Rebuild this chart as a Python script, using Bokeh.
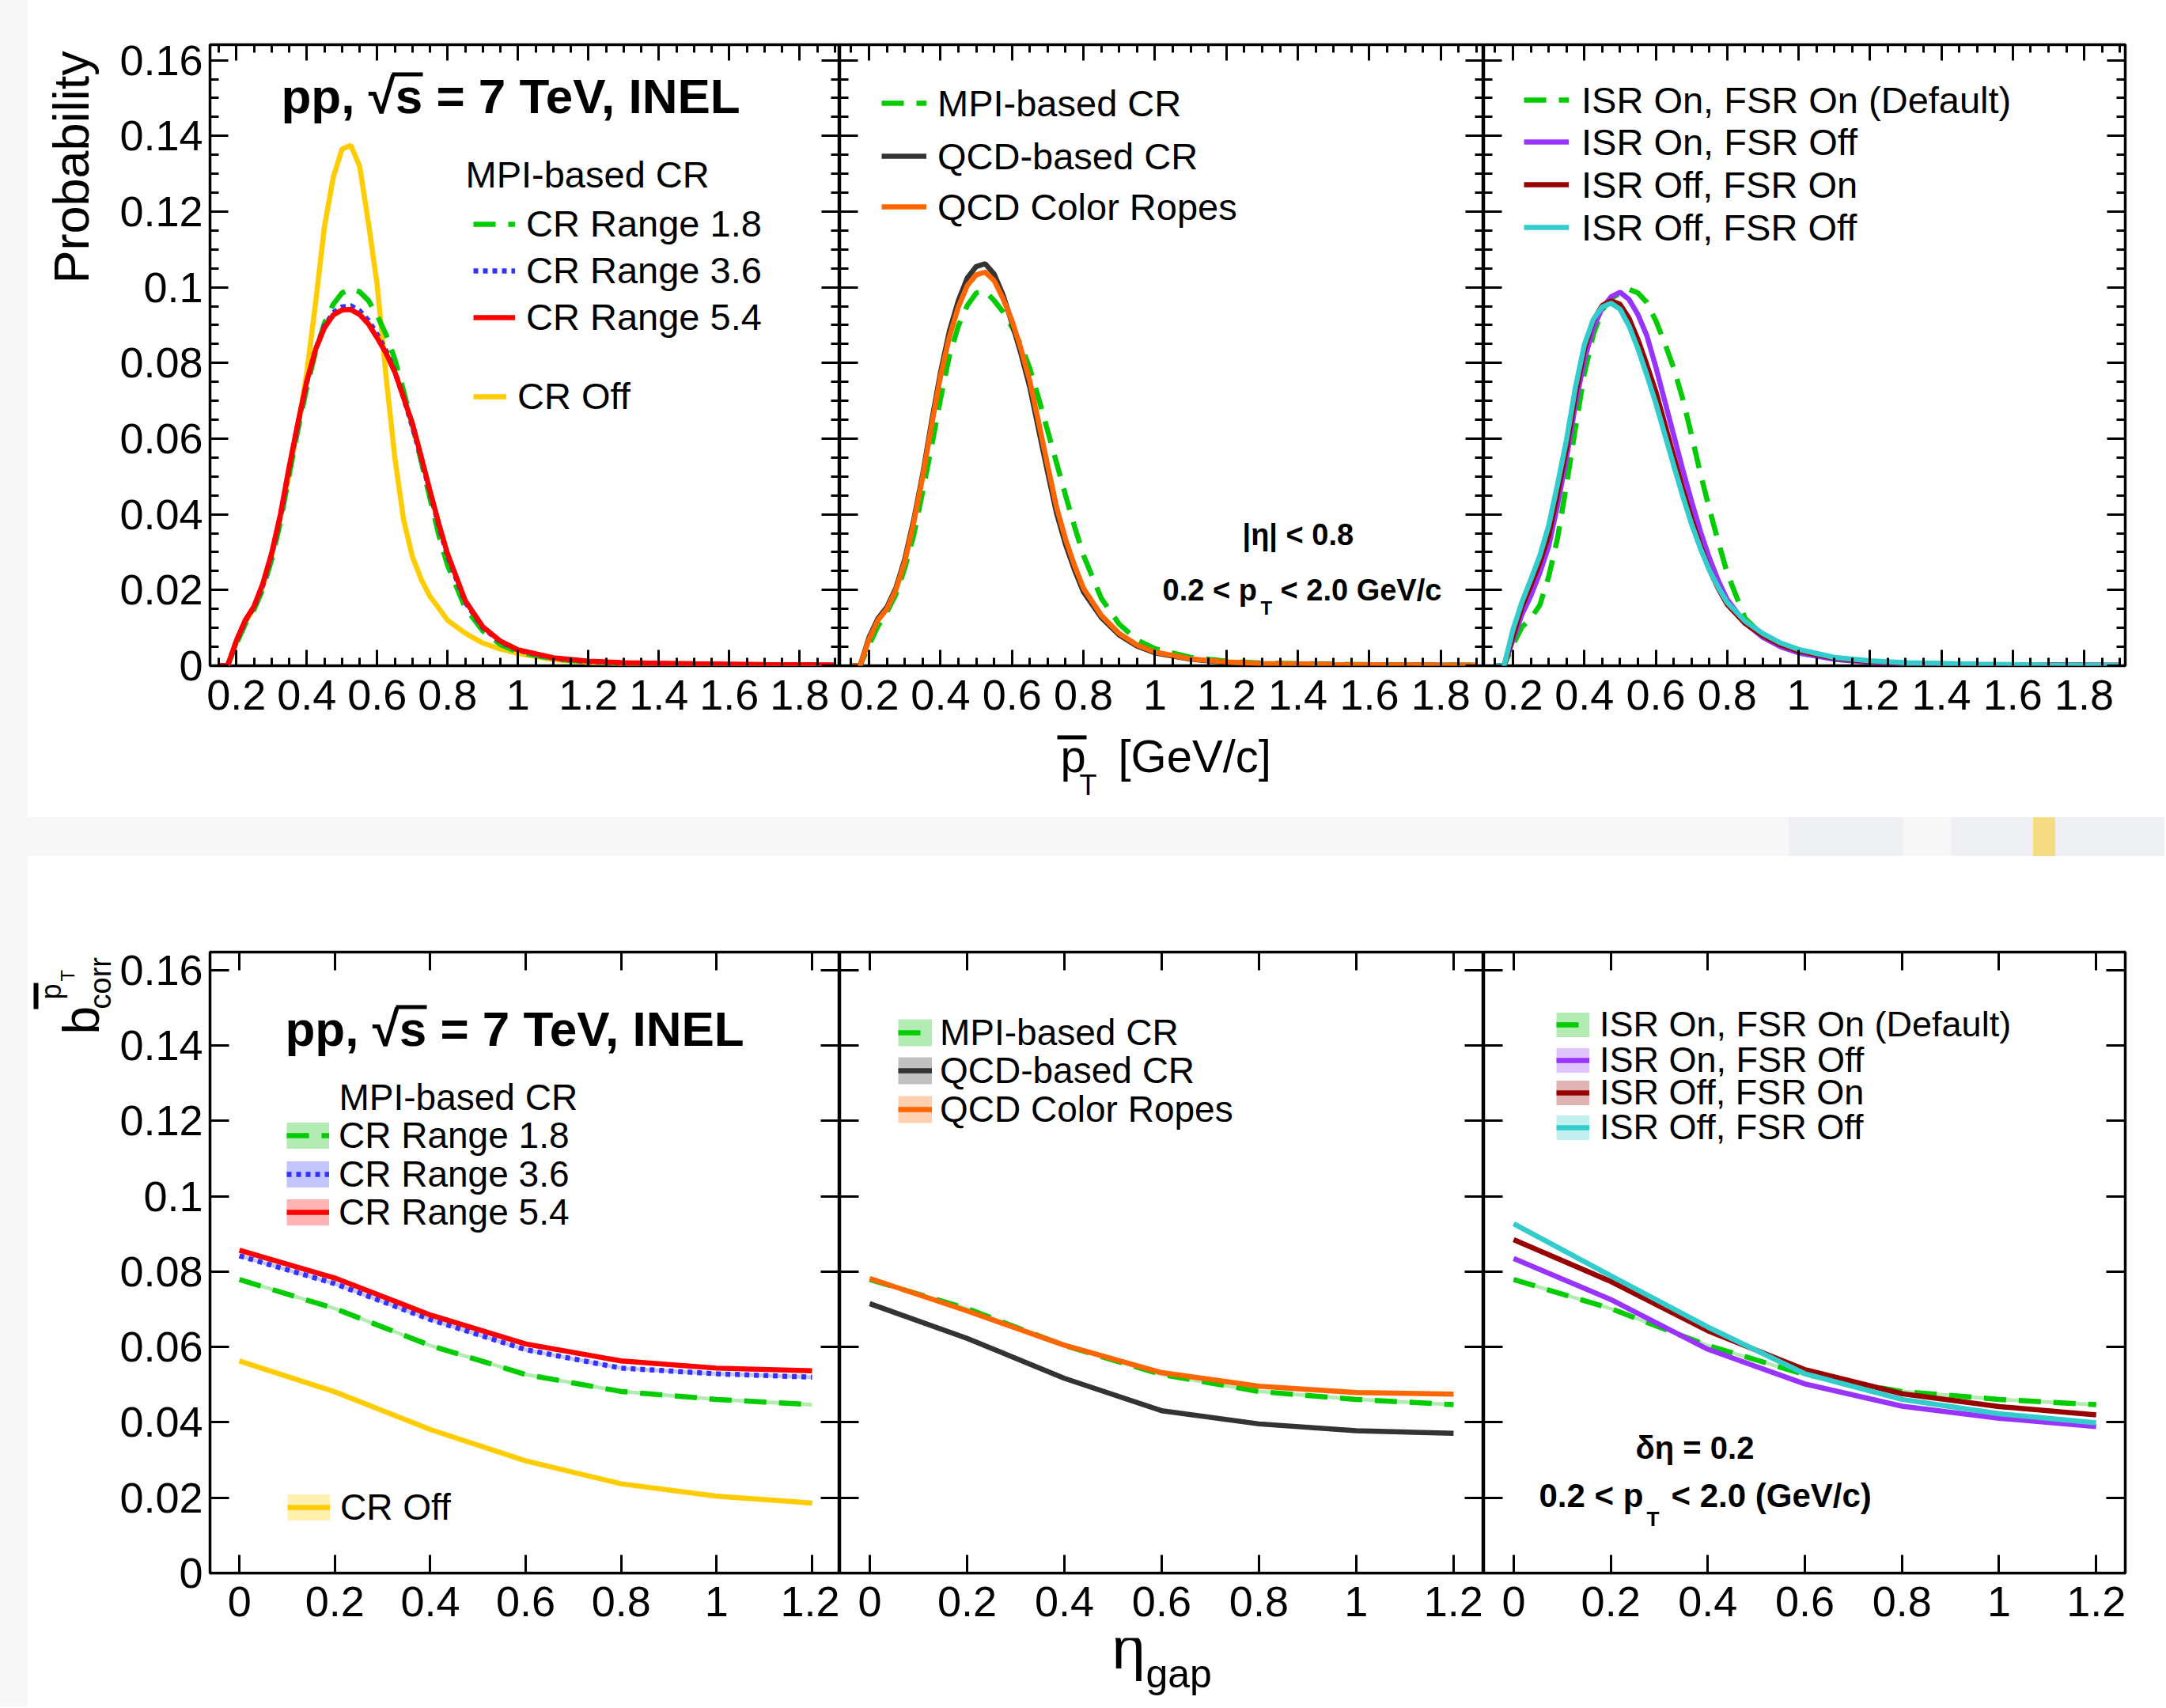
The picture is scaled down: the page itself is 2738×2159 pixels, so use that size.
import math
from bokeh.plotting import figure
from bokeh.models import (Range1d, FixedTicker, LinearAxis, Label, Legend, LegendItem,
                          BoxAnnotation, Spacer)
from bokeh.layouts import row, column
from bokeh.embed import file_html
from bokeh.resources import INLINE

# ---------------------------------------------------------------- data
pt_mean = [0.15, 0.175, 0.2, 0.225, 0.25, 0.275, 0.3, 0.325, 0.35, 0.375, 0.4, 0.425,
           0.45, 0.475, 0.5, 0.525, 0.55, 0.575, 0.6, 0.625, 0.65, 0.675, 0.7, 0.725,
           0.75, 0.775, 0.8, 0.85, 0.9, 0.95, 1.0, 1.1, 1.2, 1.3, 1.5, 1.7, 1.9]

# top-left panel : MPI-based CR ranges
prob_cr_off = [0.0, 0.0, 0.0062, 0.0115, 0.0152, 0.0210, 0.0290, 0.0390, 0.0510, 0.0630, 0.0775, 0.0960,
               0.1160, 0.1290, 0.1365, 0.1375, 0.1320, 0.1170, 0.1005, 0.0765, 0.0550, 0.0385, 0.0288, 0.0228,
               0.0183, 0.0152, 0.0120, 0.0086, 0.0060, 0.0044, 0.0033, 0.0016, 0.0009, 0.0005, 0.0002, 0.0001, 0.0]
prob_cr18 = [0.0, 0.0, 0.0058, 0.0110, 0.0148, 0.0203, 0.0280, 0.0380, 0.0505, 0.0625, 0.0735, 0.0830,
             0.0905, 0.0955, 0.0985, 0.0996, 0.0988, 0.0965, 0.0925, 0.0875, 0.0810, 0.0725, 0.0635, 0.0540,
             0.0442, 0.0345, 0.0265, 0.0153, 0.0092, 0.0056, 0.0036, 0.0018, 0.0010, 0.0006, 0.0003, 0.0002, 0.0001]
prob_cr36 = [0.0, 0.0, 0.0065, 0.0118, 0.0155, 0.0213, 0.0293, 0.0395, 0.0520, 0.0640, 0.0750, 0.0836,
             0.0897, 0.0933, 0.0948, 0.0951, 0.0938, 0.0912, 0.0875, 0.0832, 0.0778, 0.0708, 0.0632, 0.0548,
             0.0458, 0.0370, 0.0290, 0.0168, 0.0101, 0.0063, 0.0041, 0.0020, 0.0011, 0.0007, 0.0004, 0.0002, 0.0001]
prob_cr54 = [0.0, 0.0, 0.0067, 0.0120, 0.0157, 0.0217, 0.0297, 0.0400, 0.0526, 0.0643, 0.0752, 0.0836,
             0.0893, 0.0927, 0.0940, 0.0941, 0.0928, 0.0903, 0.0866, 0.0826, 0.0776, 0.0708, 0.0640, 0.0552,
             0.0462, 0.0375, 0.0295, 0.0172, 0.0103, 0.0065, 0.0042, 0.0021, 0.0012, 0.0008, 0.0005, 0.0003, 0.0002]

# top-middle panel : CR models
prob_mpi = [0.0, 0.0, 0.0055, 0.0105, 0.0142, 0.0188, 0.0258, 0.0345, 0.0460, 0.0580, 0.0705, 0.0820,
            0.0898, 0.0952, 0.0985, 0.0990, 0.0965, 0.0935, 0.0895, 0.0848, 0.0785, 0.0705, 0.0620, 0.0535,
            0.0450, 0.0368, 0.0292, 0.0178, 0.0110, 0.0068, 0.0045, 0.0022, 0.0012, 0.0007, 0.0004, 0.0002, 0.0001]
prob_qcd = [0.0, 0.0, 0.0075, 0.0125, 0.0155, 0.0205, 0.0282, 0.0385, 0.0505, 0.0645, 0.0775, 0.0885,
            0.0965, 0.1025, 0.1055, 0.1062, 0.1035, 0.0980, 0.0905, 0.0825, 0.0735, 0.0622, 0.0510, 0.0402,
            0.0320, 0.0253, 0.0195, 0.0127, 0.0081, 0.0052, 0.0034, 0.0017, 0.0009, 0.0005, 0.0003, 0.0002, 0.0001]
prob_ropes = [0.0, 0.0, 0.0070, 0.0120, 0.0150, 0.0200, 0.0275, 0.0378, 0.0498, 0.0635, 0.0765, 0.0870,
              0.0948, 0.1005, 0.1033, 0.1040, 0.1018, 0.0970, 0.0912, 0.0838, 0.0752, 0.0641, 0.0528, 0.0418,
              0.0334, 0.0265, 0.0205, 0.0133, 0.0085, 0.0055, 0.0036, 0.0018, 0.0010, 0.0006, 0.0003, 0.0002, 0.0001]

# top-right panel : ISR / FSR
prob_default = [0.0, 0.0, 0.0055, 0.0102, 0.0125, 0.0160, 0.0235, 0.0338, 0.0478, 0.0628, 0.0772, 0.0875,
                0.0940, 0.0970, 0.0985, 0.0995, 0.0985, 0.0960, 0.0912, 0.0853, 0.0787, 0.0707, 0.0610, 0.0508,
                0.0415, 0.0328, 0.0245, 0.0125, 0.0080, 0.0052, 0.0034, 0.0017, 0.0009, 0.0005, 0.0003, 0.0002, 0.0001]
prob_isron_fsroff = [0.0, 0.0, 0.0068, 0.0135, 0.0185, 0.0245, 0.0315, 0.0425, 0.0550, 0.0690, 0.0808, 0.0893,
                     0.0945, 0.0975, 0.0987, 0.0968, 0.0928, 0.0872, 0.0790, 0.0700, 0.0610, 0.0520, 0.0435, 0.0355,
                     0.0285, 0.0225, 0.0175, 0.0113, 0.0075, 0.0050, 0.0034, 0.0017, 0.0009, 0.0005, 0.0003, 0.0002, 0.0001]
prob_isroff_fsron = [0.0, 0.0, 0.0078, 0.0155, 0.0212, 0.0272, 0.0345, 0.0455, 0.0575, 0.0715, 0.0835, 0.0912,
                     0.0952, 0.0964, 0.0955, 0.0918, 0.0862, 0.0795, 0.0725, 0.0640, 0.0555, 0.0470, 0.0390, 0.0318,
                     0.0255, 0.0204, 0.0162, 0.0112, 0.0079, 0.0055, 0.0039, 0.0020, 0.0011, 0.0007, 0.0003, 0.0002, 0.0001]
prob_isroff_fsroff = [0.0, 0.0, 0.0095, 0.0168, 0.0228, 0.0290, 0.0370, 0.0480, 0.0597, 0.0736, 0.0848, 0.0915,
                      0.0948, 0.0958, 0.0942, 0.0898, 0.0838, 0.0768, 0.0694, 0.0612, 0.0530, 0.0450, 0.0375, 0.0310,
                      0.0253, 0.0207, 0.0167, 0.0118, 0.0085, 0.0060, 0.0043, 0.0022, 0.0013, 0.0008, 0.0004, 0.0002, 0.0001]

eta_gap = [0.0, 0.2, 0.4, 0.6, 0.8, 1.0, 1.2]
bcorr_default = [0.0779, 0.0702, 0.0604, 0.0527, 0.0482, 0.0461, 0.0447]
bcorr_cr36 = [0.0842, 0.0768, 0.0673, 0.0593, 0.0544, 0.0529, 0.0520]
bcorr_cr54 = [0.0857, 0.0783, 0.0685, 0.0608, 0.0563, 0.0544, 0.0537]
bcorr_cr_off = [0.0563, 0.0481, 0.0381, 0.0298, 0.0237, 0.0204, 0.0186]
bcorr_qcd = [0.0715, 0.0623, 0.0517, 0.0431, 0.0396, 0.0378, 0.0371]
bcorr_ropes = [0.0782, 0.0696, 0.0605, 0.0532, 0.0496, 0.0479, 0.0475]
bcorr_isron_fsroff = [0.0835, 0.0726, 0.0594, 0.0502, 0.0443, 0.0411, 0.0389]
bcorr_isroff_fsron = [0.0885, 0.0774, 0.0643, 0.0540, 0.0476, 0.0442, 0.0420]
bcorr_isroff_fsroff = [0.0927, 0.0789, 0.0653, 0.0529, 0.0461, 0.0423, 0.0399]
band_half_width = 0.0005

# ticks
pt_ticks = [0.2, 0.4, 0.6, 0.8, 1.0, 1.2, 1.4, 1.6, 1.8]
pt_tick_labels = ["0.2", "0.4", "0.6", "0.8", "1", "1.2", "1.4", "1.6", "1.8"]
eta_ticks = [0.0, 0.2, 0.4, 0.6, 0.8, 1.0, 1.2]
eta_tick_labels = ["0", "0.2", "0.4", "0.6", "0.8", "1", "1.2"]
y_ticks = [0.0, 0.02, 0.04, 0.06, 0.08, 0.1, 0.12, 0.14, 0.16]
y_tick_labels = ["0", "0.02", "0.04", "0.06", "0.08", "0.1", "0.12", "0.14", "0.16"]
pt_minor = [round(0.05 * i, 2) for i in range(3, 39) if i % 4 != 0]
y_minor = [round(0.005 * i, 3) for i in range(0, 33) if i % 4 != 0]

# ---------------------------------------------------------------- style
FONT = "Liberation Sans"
C_GREEN, C_BLUE, C_RED, C_YEL = "#00cc00", "#3333ff", "#ff0000", "#ffcc00"
C_BLACK, C_ORANGE = "#333333", "#ff6600"
C_PURPLE, C_DRED, C_CYAN = "#9933ff", "#990000", "#33cccc"
L_GREEN, L_BLUE, L_RED, L_YEL = "#b3ecb3", "#c4c4ff", "#ffb3b3", "#fff0b0"
L_BLACK, L_ORANGE = "#c0c0c0", "#ffcfb0"
L_PURPLE, L_DRED, L_CYAN = "#e0c4ff", "#e0b3b3", "#c2f0f0"
DASH = "28 16"
DOT = "6 6"
TICK_FONT = "54px"
K_MID = 0.35   # distance baseline -> middle of text, in em


def mid(baseline, size):
    return baseline - K_MID * size


# frames in page pixels: left, right, top, bottom, xrange, yrange
TOP_T, TOP_B = 56, 841
BOT_T, BOT_B = 1203, 1988
FR = {
    "p1": (263, 1059, TOP_T, TOP_B, (0.125, 1.914), (0.0, 0.1641)),
    "p2": (1059, 1873, TOP_T, TOP_B, (0.118, 1.920), (0.0, 0.1641)),
    "p3": (1873, 2684, TOP_T, TOP_B, (0.118, 1.915), (0.0, 0.1641)),
    "p4": (263, 1059, BOT_T, BOT_B, (-0.0617, 1.258), (0.0, 0.1648)),
    "p5": (1059, 1873, BOT_T, BOT_B, (-0.0617, 1.262), (0.0, 0.1648)),
    "p6": (1873, 2684, BOT_T, BOT_B, (-0.0618, 1.260), (0.0, 0.1648)),
}


def dx(fr, px):
    L, R, T, B, xr, yr = fr
    return xr[0] + (px - L) / (R - L) * (xr[1] - xr[0])


def dy(fr, py):
    L, R, T, B, xr, yr = fr
    return yr[0] + (B - py) / (B - T) * (yr[1] - yr[0])


def make_panel(key, mbl, mbr, mbt, mbb):
    L, R, T, B, xr, yr = FR[key]
    f = figure(frame_width=R - L, frame_height=B - T,
               x_range=Range1d(xr[0], xr[1]), y_range=Range1d(yr[0], yr[1]),
               output_backend="svg", toolbar_location=None,
               min_border_left=mbl, min_border_right=mbr,
               min_border_top=mbt, min_border_bottom=mbb)
    f.background_fill_color = "white"
    f.border_fill_color = "white"
    f.outline_line_color = "black"
    f.outline_line_width = 3.5
    f.outline_line_alpha = 1.0
    f.xgrid.visible = False
    f.ygrid.visible = False
    return f


def setup_axes(f, xt, xl, xmin, show_y, x_major, x_minor, y_major, y_minor_len, yminor, xstand):
    top = LinearAxis()
    right = LinearAxis()
    f.add_layout(top, "above")
    f.add_layout(right, "right")
    axes = [(f.below[0], True, True), (top, True, False),
            (f.left[0], False, show_y), (right, False, False)]
    for ax, is_x, labelled in axes:
        ticks = xt if is_x else y_ticks
        labels = xl if is_x else y_tick_labels
        minors = xmin if is_x else yminor
        ax.ticker = FixedTicker(ticks=ticks, minor_ticks=minors)
        ax.axis_line_color = None
        ax.axis_label = None
        ax.major_tick_out = 0
        ax.minor_tick_out = 0
        ax.major_tick_in = x_major if is_x else y_major
        ax.minor_tick_in = x_minor if is_x else y_minor_len
        ax.major_tick_line_width = 3
        ax.minor_tick_line_width = 3
        ax.major_tick_line_color = "black"
        ax.minor_tick_line_color = "black" if minors else None
        if labelled:
            ax.major_label_overrides = dict(zip(ticks, labels))
            ax.major_label_text_font = FONT
            ax.major_label_text_font_size = TICK_FONT
            ax.major_label_text_color = "black"
            ax.major_label_standoff = xstand if is_x else 9
        else:
            ax.major_label_text_font_size = "1px"
            ax.major_label_text_color = None
            ax.major_label_standoff = 0


def text(f, key, s, px, py, size, bold=False, align="left", angle=0.0):
    fr = FR[key]
    f.add_layout(Label(x=dx(fr, px), y=dy(fr, py), text=s, text_font=FONT,
                       text_font_size=f"{size}px",
                       text_font_style="bold" if bold else "normal",
                       text_baseline="middle", text_align=align, angle=angle,
                       text_color="black"))


def bar(f, key, x0, x1, y0, y1):
    fr = FR[key]
    f.add_layout(BoxAnnotation(left=dx(fr, x0), right=dx(fr, x1), top=dy(fr, y0), bottom=dy(fr, y1),
                               fill_color="black", fill_alpha=1.0, line_color=None))


def entry(f, key, renderers, label, gl, cy, gw, standoff, item_h=58, font=47):
    L, R, T, B, xr, yr = FR[key]
    leg = Legend(items=[LegendItem(label=label, renderers=renderers)],
                 location=(gl - L, B - (cy + item_h / 2.0)),
                 orientation="vertical", padding=0, spacing=0, margin=0,
                 glyph_width=gw, glyph_height=item_h, label_height=item_h,
                 label_standoff=standoff, label_text_font=FONT,
                 label_text_font_size=f"{font}px", label_text_color="black",
                 border_line_color=None, background_fill_alpha=0.0)
    f.add_layout(leg)


# plain canvases (pixel coordinates, y downwards) for texts outside the frames
def canvas(x0, y0, w, h):
    c = figure(frame_width=w, frame_height=h, x_range=Range1d(0, w), y_range=Range1d(h, 0),
               x_axis_type=None, y_axis_type=None, output_backend="svg", toolbar_location=None,
               min_border_left=0, min_border_right=0, min_border_top=0, min_border_bottom=0)
    c.outline_line_color = None
    c.background_fill_color = "white"
    c.border_fill_color = "white"
    return c, (x0, y0)


def ctext(cv, s, px, py, size, bold=False, angle=0.0):
    c, (x0, y0) = cv
    c.add_layout(Label(x=px - x0, y=py - y0, text=s, text_font=FONT, text_font_size=f"{size}px",
                       text_font_style="bold" if bold else "normal", text_baseline="middle",
                       text_align="left", angle=angle, text_color="black"))


def cbar(cv, xa, xb, ya, yb):
    c, (x0, y0) = cv
    c.add_layout(BoxAnnotation(left=xa - x0, right=xb - x0, top=ya - y0, bottom=yb - y0,
                               fill_color="black", fill_alpha=1.0, line_color=None))


# ---------------------------------------------------------------- top row
f1 = make_panel("p1", 115, 0, 56, 82)
f2 = make_panel("p2", 0, 0, 56, 82)
f3 = make_panel("p3", 0, 52, 56, 82)
for f, showy in ((f1, True), (f2, False), (f3, False)):
    setup_axes(f, pt_ticks, pt_tick_labels, pt_minor, showy, 20, 10, 23, 11, y_minor, 18)

LW = 6.5
r_off = f1.line(pt_mean, prob_cr_off, line_color=C_YEL, line_width=LW)
r_18 = f1.line(pt_mean, prob_cr18, line_color=C_GREEN, line_width=LW, line_dash=DASH)
r_36 = f1.line(pt_mean, prob_cr36, line_color=C_BLUE, line_width=LW, line_dash=DOT)
r_54 = f1.line(pt_mean, prob_cr54, line_color=C_RED, line_width=LW)

text(f1, "p1", "pp, √s = 7 TeV, INEL", 353, mid(143, 62), 62, bold=True)
bar(f1, "p1", 493, 532, 91, 96)
text(f1, "p1", "MPI-based CR", 586, 220, 47)
entry(f1, "p1", [r_18], "CR Range 1.8", 596, 282.5, 53, 14)
entry(f1, "p1", [r_36], "CR Range 3.6", 596, 341.6, 53, 14)
entry(f1, "p1", [r_54], "CR Range 5.4", 596, 400.7, 53, 14)
entry(f1, "p1", [r_off], "CR Off", 596, 500.6, 42, 14)

r_mpi = f2.line(pt_mean, prob_mpi, line_color=C_GREEN, line_width=LW, line_dash=DASH)
r_qcd = f2.line(pt_mean, prob_qcd, line_color=C_BLACK, line_width=LW)
r_rop = f2.line(pt_mean, prob_ropes, line_color=C_ORANGE, line_width=LW)
entry(f2, "p2", [r_mpi], "MPI-based CR", 1112, 130, 57, 14)
entry(f2, "p2", [r_qcd], "QCD-based CR", 1112, 197, 57, 14)
entry(f2, "p2", [r_rop], "QCD Color Ropes", 1112, 261, 57, 14)
text(f2, "p2", "|η| < 0.8", 1568, 675, 38, bold=True)
text(f2, "p2", "0.2 < p", 1467, 745, 38, bold=True)
text(f2, "p2", "T", 1591, 768, 24, bold=True)
text(f2, "p2", "< 2.0 GeV/c", 1616, 745, 38, bold=True)

r_def = f3.line(pt_mean, prob_default, line_color=C_GREEN, line_width=LW, line_dash=DASH)
r_pur = f3.line(pt_mean, prob_isron_fsroff, line_color=C_PURPLE, line_width=LW)
r_dr = f3.line(pt_mean, prob_isroff_fsron, line_color=C_DRED, line_width=LW)
r_cy = f3.line(pt_mean, prob_isroff_fsroff, line_color=C_CYAN, line_width=LW)
entry(f3, "p3", [r_def], "ISR On, FSR On (Default)", 1924, 126, 57, 16)
entry(f3, "p3", [r_pur], "ISR On, FSR Off", 1924, 179, 57, 16)
entry(f3, "p3", [r_dr], "ISR Off, FSR On", 1924, 233, 57, 16)
entry(f3, "p3", [r_cy], "ISR Off, FSR Off", 1924, 287, 57, 16)

# texts outside the top frames
lab_top = canvas(35, 0, 113, 1033)
ctext(lab_top, "Probability", mid(112, 63), 358, 63, angle=math.pi / 2)
xt_top = canvas(148, 923, 2588, 110)
ctext(xt_top, "p", 1340, mid(975, 58), 58)
cbar(xt_top, 1336, 1373, 929, 934)
ctext(xt_top, "T", 1364, mid(1005, 36), 36)
ctext(xt_top, "[GeV/c]", 1413, mid(975, 58), 58)

# ---------------------------------------------------------------- bottom row
f4 = make_panel("p4", 115, 0, 121, 82)
f5 = make_panel("p5", 0, 0, 121, 82)
f6 = make_panel("p6", 0, 52, 121, 82)
for f, showy in ((f4, True), (f5, False), (f6, False)):
    setup_axes(f, eta_ticks, eta_tick_labels, [], showy, 23, 0, 24, 0, [], 17)

BLW = 6.5
NAN = float("nan")


def series(f, vals, color, light, dash=None):
    f.varea(x=eta_gap, y1=[v - band_half_width for v in vals], y2=[v + band_half_width for v in vals],
            fill_color=light, fill_alpha=1.0)
    kw = dict(line_color=color, line_width=BLW)
    if dash:
        kw["line_dash"] = dash
    return f.line(eta_gap, vals, **kw)


def legend_box(f, light, h):
    # legend swatch only: a thick light bar, nothing is drawn in the plot
    return f.line(x=[NAN], y=[NAN], line_color=light, line_width=h)


b_off = series(f4, bcorr_cr_off, C_YEL, L_YEL)
b_18 = series(f4, bcorr_default, C_GREEN, L_GREEN, DASH)
b_36 = series(f4, bcorr_cr36, C_BLUE, L_BLUE, DOT)
b_54 = series(f4, bcorr_cr54, C_RED, L_RED)
text(f4, "p4", "pp, √s = 7 TeV, INEL", 358, mid(1322, 62), 62, bold=True)
bar(f4, "p4", 498, 537, 1270, 1275)
text(f4, "p4", "MPI-based CR", 426, 1386, 46)
entry(f4, "p4", [legend_box(f4, L_GREEN, 33), b_18], "CR Range 1.8", 360, 1434.7, 54, 12, 56, 46)
entry(f4, "p4", [legend_box(f4, L_BLUE, 33), b_36], "CR Range 3.6", 360, 1483.6, 54, 12, 56, 46)
entry(f4, "p4", [legend_box(f4, L_RED, 33), b_54], "CR Range 5.4", 360, 1531.9, 54, 12, 56, 46)
entry(f4, "p4", [legend_box(f4, L_YEL, 33), b_off], "CR Off", 361, 1905, 54, 13, 56, 46)

b_mpi = series(f5, bcorr_default, C_GREEN, L_GREEN, DASH)
b_qcd = series(f5, bcorr_qcd, C_BLACK, L_BLACK)
b_rop = series(f5, bcorr_ropes, C_ORANGE, L_ORANGE)
entry(f5, "p5", [legend_box(f5, L_GREEN, 34), b_mpi], "MPI-based CR", 1133, 1305, 43, 10, 56, 46)
entry(f5, "p5", [legend_box(f5, L_BLACK, 34), b_qcd], "QCD-based CR", 1133, 1352.6, 43, 10, 56, 46)
entry(f5, "p5", [legend_box(f5, L_ORANGE, 34), b_rop], "QCD Color Ropes", 1133, 1402, 43, 10, 56, 46)

b_def = series(f6, bcorr_default, C_GREEN, L_GREEN, DASH)
b_pur = series(f6, bcorr_isron_fsroff, C_PURPLE, L_PURPLE)
b_dr = series(f6, bcorr_isroff_fsron, C_DRED, L_DRED)
b_cy = series(f6, bcorr_isroff_fsroff, C_CYAN, L_CYAN)
entry(f6, "p6", [legend_box(f6, L_GREEN, 31), b_def], "ISR On, FSR On (Default)", 1965, 1295, 42, 13, 56, 45)
entry(f6, "p6", [legend_box(f6, L_PURPLE, 31), b_pur], "ISR On, FSR Off", 1965, 1339.6, 42, 13, 56, 45)
entry(f6, "p6", [legend_box(f6, L_DRED, 31), b_dr], "ISR Off, FSR On", 1965, 1381.4, 42, 13, 56, 45)
entry(f6, "p6", [legend_box(f6, L_CYAN, 31), b_cy], "ISR Off, FSR Off", 1965, 1424.6, 42, 13, 56, 45)
text(f6, "p6", "δη = 0.2", 2065, 1829, 40, bold=True)
text(f6, "p6", "0.2 < p", 1943, 1890, 42, bold=True)
text(f6, "p6", "T", 2079, 1919, 26, bold=True)
text(f6, "p6", "< 2.0 (GeV/c)", 2110, 1890, 42, bold=True)

# texts outside the bottom frames
lab_bot = canvas(35, 1082, 113, 1075)
ctext(lab_bot, "b", mid(125, 64), 1307, 64, angle=math.pi / 2)
ctext(lab_bot, "corr", mid(140, 38), 1275, 38, angle=math.pi / 2)
ctext(lab_bot, "p", mid(77, 36), 1263, 36, angle=math.pi / 2)
ctext(lab_bot, "T", mid(93, 24), 1240, 24, angle=math.pi / 2)
cbar(lab_bot, 42, 48, 1242, 1275)
xt_bot = canvas(148, 2070, 2588, 87)
ctext(xt_bot, "η", 1405, mid(2109, 76), 76)
ctext(xt_bot, "gap", 1448, mid(2133, 50), 50)

# ---------------------------------------------------------------- page layout
GRAY = "#f7f7f7"
BLUISH = "#eef0f4"
YELLOW_STRIP = "#f5dc82"


def block(w, h, color):
    return Spacer(width=w, height=h, margin=0, styles={"background-color": color})


strip = block(35, 2157, GRAY)
band = row(block(2226, 49, GRAY), block(145, 49, BLUISH), block(60, 49, GRAY),
           block(104, 49, BLUISH), block(28, 49, YELLOW_STRIP), block(138, 49, BLUISH),
           spacing=0)
top_sec = row(lab_top[0], column(row(f1, f2, f3, spacing=0), xt_top[0], spacing=0), spacing=0)
bot_sec = row(lab_bot[0], column(row(f4, f5, f6, spacing=0), xt_bot[0], spacing=0), spacing=0)
layout = row(strip, column(top_sec, band, bot_sec, spacing=0), spacing=0)

open("out.html", "w").write(file_html(layout, INLINE))
